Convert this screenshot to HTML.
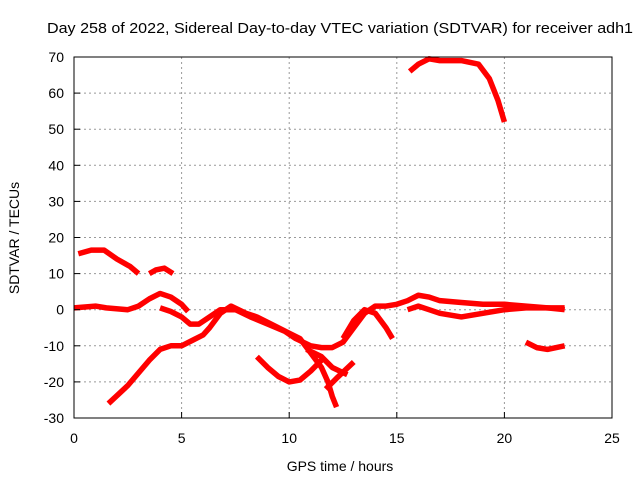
<!DOCTYPE html>
<html><head><meta charset="utf-8"><style>
body{margin:0;background:#fff}
svg{display:block;font-family:"Liberation Sans",sans-serif}
</style></head><body>
<svg width="640" height="480">
<g id="grid"></g>
<g id="series"></g>
<rect x="74" y="57" width="538" height="361" fill="none" stroke="#000" stroke-width="1"/>
<g id="ticks"></g>
<text x="47" y="33" font-size="15" textLength="586" lengthAdjust="spacingAndGlyphs">Day 258 of 2022, Sidereal Day-to-day VTEC variation (SDTVAR) for receiver adh1</text>
<text x="340" y="471" text-anchor="middle" font-size="14">GPS time / hours</text>
<text transform="translate(19,238) rotate(-90)" text-anchor="middle" font-size="14">SDTVAR / TECUs</text>
</svg>
<script>
const xTicks=[0,5,10,15,20,25];
const yTicks=[-30,-20,-10,0,10,20,30,40,50,60,70];
const s1=[[15.6,66],[16,68],[16.5,69.5],[17,69],[18,69],[18.8,68],[19.3,64],[19.7,58],[20,52]];
const s2=[[0.2,15.5],[0.8,16.5],[1.4,16.5],[2,14],[2.6,12],[3,10]];
const s3=[[3.5,10],[3.8,11],[4.2,11.5],[4.6,10]];
const s4=[[0,0.5],[1,1],[1.5,0.5],[2.5,0],[3,1],[3.5,3],[4,4.5],[4.5,3.5],[5,1.5],[5.3,-0.5]];
const s5=[[4,0.5],[4.5,-0.5],[5,-2],[5.4,-4],[5.8,-4],[6.3,-2],[6.8,0],[7.5,0],[8.2,-2],[9,-4],[9.8,-6],[10.3,-8],[11,-10],[11.5,-10.5],[12,-10.5],[12.5,-9],[13,-5],[13.5,-1],[14,1],[14.5,1],[15,1.5],[15.5,2.5],[16,4],[16.5,3.5],[17,2.5],[18,2],[19,1.5],[20,1.5],[21,1],[22,0.5],[22.8,0]];
const s6=[[1.6,-26],[2.5,-21],[3.5,-14],[4,-11],[4.5,-10],[5,-10],[5.5,-8.5],[6,-7],[6.3,-5],[6.8,-1],[7.3,1],[8,-1],[8.5,-2],[9,-3.5],[10,-6.5],[10.5,-8],[11,-12],[11.5,-16],[11.8,-20],[12,-24],[12.2,-27]];
const s7=[[8.5,-13],[9,-16],[9.5,-18.5],[10,-20],[10.5,-19.5],[11,-17],[11.5,-14]];
const s8=[[10.8,-11],[11.5,-13],[12,-16],[12.7,-18]];
const s9=[[11.7,-22],[12.2,-19],[13,-14.5]];
const s10=[[12.5,-8],[13,-3],[13.5,0],[14,-1],[14.5,-5],[14.8,-8]];
const s11=[[15.5,0],[16,1],[16.5,0],[17,-1],[18,-2],[19,-1],[20,0],[21,0.5],[22,0.5],[22.8,0.5]];
const s12=[[21,-9],[21.5,-10.5],[22,-11],[22.8,-10]];
const allSeries=[s1,s2,s3,s4,s5,s6,s7,s8,s9,s10,s11,s12];
const NS="http://www.w3.org/2000/svg";
const X=h=>74+h/25*538, Y=v=>418-(v+30)/100*361;
const grid=document.getElementById('grid'),ticks=document.getElementById('ticks'),ser=document.getElementById('series');
function mk(tag,attrs,parent){const e=document.createElementNS(NS,tag);for(const k in attrs)e.setAttribute(k,attrs[k]);parent.appendChild(e);return e;}
xTicks.forEach(t=>{
 if(t>0&&t<25){const g=mk('line',{x1:X(t),x2:X(t),y1:57,y2:418,stroke:'#999','stroke-dasharray':'2,3'},grid);
 
 }
 const l=mk('line',{x1:X(t),x2:X(t),y1:418,y2:412,stroke:'#000'},ticks);
 
 
 const tx=mk('text',{x:X(t),y:443,'text-anchor':'middle','font-size':14},ticks);tx.textContent=t;
 
 
});
yTicks.forEach(t=>{
 if(t>-30&&t<70){const g=mk('line',{x1:74,x2:612,y1:Y(t),y2:Y(t),stroke:'#999','stroke-dasharray':'2,3'},grid);
 
 }
 const l=mk('line',{x1:74,x2:80,y1:Y(t),y2:Y(t),stroke:'#000'},ticks);
 
 
 const tx=mk('text',{x:64,y:Y(t)+5,'text-anchor':'end','font-size':14},ticks);tx.textContent=t;
 
 
});
allSeries.forEach((s,i)=>{
 const p=mk('polyline',{points:s.map(d=>X(d[0])+','+Y(d[1])).join(' '),fill:'none',stroke:'#f00','stroke-width':5.5,'stroke-linejoin':'round'},ser);
 
 
});
</script>
</body></html>
